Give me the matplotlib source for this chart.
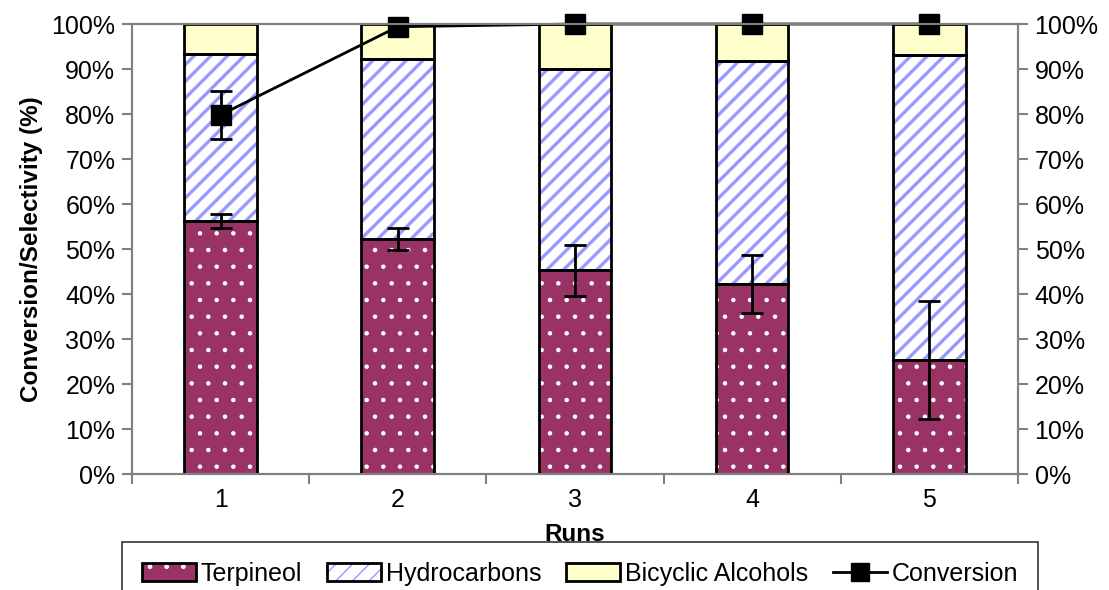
import numpy as np
import matplotlib
matplotlib.use("Agg")
import matplotlib.pyplot as plt
from matplotlib.patches import Patch
from matplotlib.lines import Line2D
from matplotlib.legend_handler import HandlerTuple

runs = ["1", "2", "3", "4", "5"]
terpineol = [56.2, 52.2, 45.3, 42.2, 25.3]
terp_err_lo = [54.7, 49.8, 39.6, 35.8, 12.3]
terp_err_hi = [57.8, 54.7, 50.9, 48.7, 38.5]
hydrocarbons = [37.1, 40.0, 44.7, 49.6, 67.8]
bicyclic = [6.7, 7.8, 10.0, 8.2, 6.9]
conversion = [79.8, 99.4, 100.0, 100.0, 100.0]
conv_err_lo = [74.4, np.nan, np.nan, np.nan, np.nan]
conv_err_hi = [85.2, np.nan, np.nan, np.nan, np.nan]

plt.rcParams["font.family"] = ["Liberation Sans", "DejaVu Sans"]

TERP_COLOR = "#993366"
HYDRO_COLOR = "#9999FF"
BICY_COLOR = "#FFFFCC"
GRAY = "#808080"
DOT_LW = 0.8
STRIPE_LW = 2.4


def hatch_lw(artist, lw):
    # keep the hatch width also when it is read at draw time
    orig = artist.draw

    def draw(renderer):
        with matplotlib.rc_context({"hatch.linewidth": lw}):
            orig(renderer)
    artist.draw = draw
    return artist


def hatched_patch(lw, **kw):
    with matplotlib.rc_context({"hatch.linewidth": lw}):
        p = Patch(**kw)
    return hatch_lw(p, lw)


def hatched_bar(ax, x, h, bottom, face, hatch, hatch_color, lw):
    with matplotlib.rc_context({"hatch.linewidth": lw}):
        bars = ax.bar(x, h, width=0.41, bottom=bottom, color=face,
                      edgecolor=hatch_color, hatch=hatch, linewidth=0, zorder=2)
    for b in bars:
        hatch_lw(b, lw)
    ax.bar(x, h, width=0.41, bottom=bottom, facecolor="none",
           edgecolor="black", linewidth=2, zorder=3)


fig = plt.figure(figsize=(11.09, 5.9), dpi=100)
ax = fig.add_axes([0.119, 0.1966, 0.7989, 0.7627])

x = np.arange(len(runs))
terp = np.array(terpineol)
hyd = np.array(hydrocarbons)
bic = np.array(bicyclic)

hatched_bar(ax, x, terp, 0, TERP_COLOR, ".", "white", DOT_LW)
hatched_bar(ax, x, hyd, terp, "white", "//", HYDRO_COLOR, STRIPE_LW)
hatched_bar(ax, x, bic, terp + hyd, BICY_COLOR, None, BICY_COLOR, 1.0)

# error bars on terpineol
lo = terp - np.array(terp_err_lo)
hi = np.array(terp_err_hi) - terp
ax.errorbar(x, terp, yerr=[lo, hi], fmt="none", ecolor="black",
            elinewidth=2, capsize=8, capthick=2, zorder=4)

conv = np.array(conversion)
clo = conv - np.array(conv_err_lo)
chi = np.array(conv_err_hi) - conv
ax.errorbar(x, conv, yerr=[clo, chi], fmt="none", ecolor="black",
            elinewidth=2, capsize=8, capthick=2, zorder=5, clip_on=False)
ax.plot(x, conv, color="black", lw=2, marker="s", markersize=15,
        zorder=6, clip_on=False)

ax.set_xlim(-0.5, len(runs) - 0.5)
ax.set_ylim(0, 100)
ax.set_xticks(x)
ax.set_xticklabels(runs)
ax.set_xticks(np.arange(-0.5, len(runs)), minor=True)
ax.tick_params(axis="x", which="major", length=0, pad=10, labelsize=18)
ax.tick_params(axis="x", which="minor", length=7, color=GRAY, width=1.5)

yt = np.arange(0, 101, 10)
ax.set_yticks(yt)
ax.set_yticklabels([f"{v}%" for v in yt])
ax.tick_params(axis="y", length=7, color=GRAY, width=1.5, labelsize=18, pad=5)

ax2 = ax.twinx()
ax2.set_ylim(0, 100)
ax2.set_yticks(yt)
ax2.set_yticklabels([f"{v}%" for v in yt])
ax2.tick_params(axis="y", length=7, color=GRAY, width=1.5, labelsize=18, pad=5)

for a in (ax, ax2):
    for s in a.spines.values():
        s.set_color(GRAY)
        s.set_linewidth(1.5)

ax.set_ylabel("Conversion/Selectivity (%)", fontsize=17.5, fontweight="bold", labelpad=6)
ax.set_xlabel("Runs", fontsize=17.5, fontweight="bold", labelpad=8)

# legend
p_terp = hatched_patch(DOT_LW, facecolor=TERP_COLOR, edgecolor="white", hatch=".", linewidth=0)
p_hyd = hatched_patch(STRIPE_LW, facecolor="white", edgecolor=HYDRO_COLOR, hatch="//", linewidth=0)
h_terp = (p_terp, Patch(facecolor="none", edgecolor="black", linewidth=2))
h_hyd = (p_hyd, Patch(facecolor="none", edgecolor="black", linewidth=2))
h_bic = Patch(facecolor=BICY_COLOR, edgecolor="black", linewidth=2)
h_conv = Line2D([], [], color="black", lw=2, marker="s", markersize=13)
leg = fig.legend([h_terp, h_hyd, h_bic, h_conv],
                 ["Terpineol", "Hydrocarbons", "Bicyclic Alcohols", "Conversion"],
                 loc="upper center", bbox_to_anchor=(0.523, 1 - 542 / 590), ncol=4,
                 fontsize=18, frameon=True, fancybox=False, edgecolor="black",
                 handlelength=2.15, handleheight=0.75, handletextpad=0.2,
                 columnspacing=1.0, borderpad=0.8, borderaxespad=0,
                 handler_map={tuple: HandlerTuple(ndivide=1, pad=0)})
leg.get_frame().set_linewidth(1.2)

fig.savefig("out.png", dpi=100)
